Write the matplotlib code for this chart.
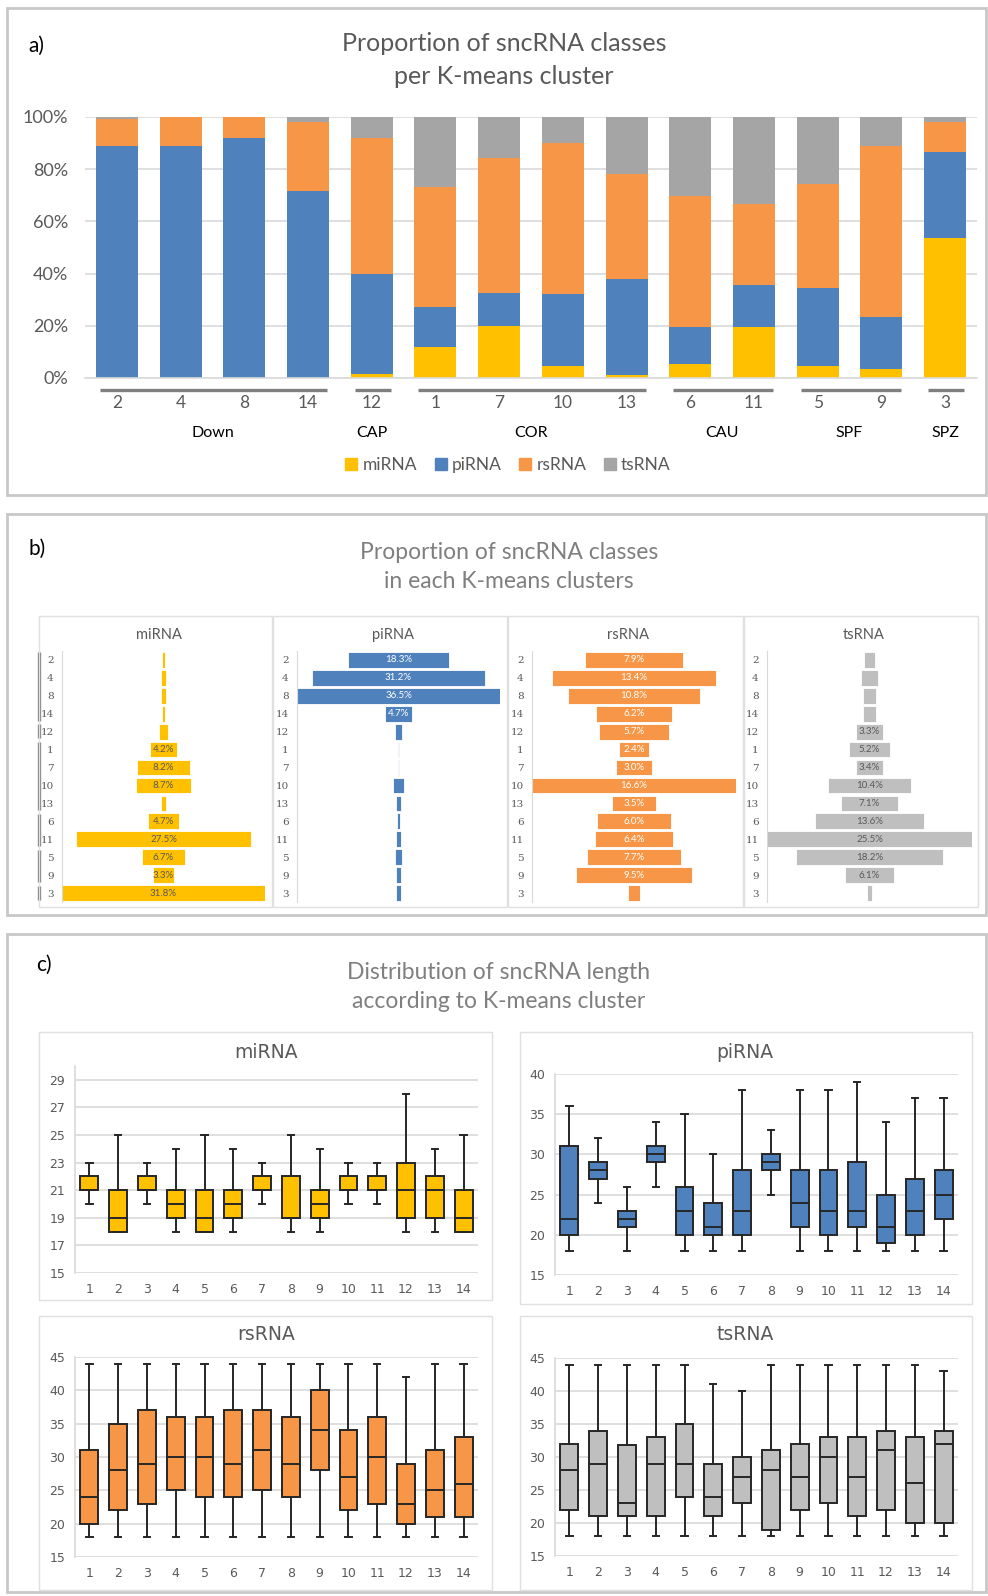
import matplotlib
matplotlib.use("Agg")
import matplotlib.pyplot as plt
from matplotlib.patches import Rectangle, Patch

plt.rcParams['font.family'] = ['Lato', 'DejaVu Sans']

# ---- data ----
classes = ["miRNA", "piRNA", "rsRNA", "tsRNA"]
clusters = ["2", "4", "8", "14", "12", "1", "7", "10", "13", "6", "11", "5", "9", "3"]
groups = ["Down", "CAP", "COR", "CAU", "SPF", "SPZ"]
group_sizes = [4, 1, 4, 2, 2, 1]

# panel a: percentage of each class within a cluster
pct_mirna = [0, 0, 0, 0, 1.5, 11.7, 20.0, 4.5, 1.1, 5.5, 19.4, 4.7, 3.3, 53.6]
pct_pirna = [88.8, 88.8, 92.0, 71.7, 38.4, 15.4, 12.6, 27.5, 36.9, 14.1, 16.1, 29.7, 19.9, 32.9]
pct_rsrna = [10.6, 11.2, 8.0, 26.4, 52.1, 46.0, 51.7, 58.2, 40.3, 50.0, 31.1, 40.1, 65.6, 11.6]
pct_tsrna = [0.6, 0, 0, 1.9, 8.0, 26.9, 15.7, 9.8, 21.7, 30.4, 33.4, 25.5, 11.2, 1.9]

# panel b: share of each class found in a cluster
share_mirna = [0.4, 0.9, 0.9, 0.5, 1.4, 4.2, 8.2, 8.7, 0.9, 4.7, 27.5, 6.7, 3.3, 31.8]
share_pirna = [18.3, 31.2, 36.5, 4.7, 1.1, 0.1, 0.1, 2.1, 0.8, 0.4, 0.8, 1.4, 0.8, 0.8]
share_rsrna = [7.9, 13.4, 10.8, 6.2, 5.7, 2.4, 3.0, 16.6, 3.5, 6.0, 6.4, 7.7, 9.5, 1.0]
share_tsrna = [1.3, 2.0, 1.5, 1.5, 3.3, 5.2, 3.4, 10.4, 7.1, 13.6, 25.5, 18.2, 6.1, 0.5]

# panel c: length distribution per cluster 1..14 (whislo, q1, med, q3, whishi)
box_clusters = list(range(1, 15))
len_mirna = [(20, 21, 21, 22, 23), (18, 18, 19, 21, 25), (20, 21, 21, 22, 23), (18, 19, 20, 21, 24),
             (18, 18, 19, 21, 25), (18, 19, 20, 21, 24), (20, 21, 21, 22, 23), (18, 19, 19, 22, 25),
             (18, 19, 20, 21, 24), (20, 21, 21, 22, 23), (20, 21, 21, 22, 23), (18, 19, 21, 23, 28),
             (18, 19, 21, 22, 24), (18, 18, 19, 21, 25)]
len_pirna = [(18, 20, 22, 31, 36), (24, 27, 28, 29, 32), (18, 21, 22, 23, 26), (26, 29, 30, 31, 34),
             (18, 20, 23, 26, 35), (18, 20, 21, 24, 30), (18, 20, 23, 28, 38), (25, 28, 29, 30, 33),
             (18, 21, 24, 28, 38), (18, 20, 23, 28, 38), (18, 21, 23, 29, 39), (18, 19, 21, 25, 34),
             (18, 20, 23, 27, 37), (18, 22, 25, 28, 37)]
len_rsrna = [(18, 20, 24, 31, 44), (18, 22, 28, 35, 44), (18, 23, 29, 37, 44), (18, 25, 30, 36, 44),
             (18, 24, 30, 36, 44), (18, 24, 29, 37, 44), (18, 25, 31, 37, 44), (18, 24, 29, 36, 44),
             (18, 28, 34, 40, 44), (18, 22, 27, 34, 44), (18, 23, 30, 36, 44), (18, 20, 23, 29, 42),
             (18, 21, 25, 31, 44), (18, 21, 26, 33, 44)]
len_tsrna = [(18, 22, 28, 32, 44), (18, 21, 29, 34, 44), (18, 21, 23, 31.8, 44), (18, 21, 29, 33, 44),
             (18, 24, 29, 35, 44), (18, 21, 24, 29, 41), (18, 23, 27, 30, 40), (18, 19, 28, 31, 44),
             (18, 22, 27, 32, 44), (18, 23, 30, 33, 44), (18, 21, 27, 33, 44), (18, 22, 31, 34, 44),
             (18, 20, 26, 33, 44), (18, 20, 32, 34, 43)]

YEL, BLU, ORA, GRY, LGRY = "#FFC000", "#4F81BD", "#F79646", "#A5A5A5", "#BFBFBF"
TXT = "#595959"
GRID = "#D9D9D9"

W, H = 988, 1596
fig = plt.figure(figsize=(W / 100, H / 100), dpi=100)


def fax(x0, y0, x1, y1):
    return fig.add_axes([x0 / W, 1 - y1 / H, (x1 - x0) / W, (y1 - y0) / H])


def frame(x0, y0, x1, y1, color, lw):
    fig.patches.append(Rectangle((x0 / W, 1 - y1 / H), (x1 - x0) / W, (y1 - y0) / H,
                                 transform=fig.transFigure, fill=False, ec=color, lw=lw))


def ftext(x, y, s, **kw):
    fig.text(x / W, 1 - y / H, s, **kw)


# panel frames
frame(7, 8, 986, 495, "#C8C8C8", 2)
frame(7, 514, 986, 915, "#C8C8C8", 2)
frame(7, 934, 986, 1592, "#C8C8C8", 2)

# ---------- panel a ----------
ftext(28, 46, "a)", fontsize=15, ha="left", va="center")
ftext(504, 60, "Proportion of sncRNA classes\nper K-means cluster", fontsize=18, color=TXT,
      ha="center", va="center", linespacing=1.5)

ax = fax(85, 117, 977, 378)
x = list(range(len(clusters)))
bottom = [0] * len(x)
for vals, col in zip([pct_mirna, pct_pirna, pct_rsrna, pct_tsrna], [YEL, BLU, ORA, GRY]):
    ax.bar(x, vals, bottom=bottom, width=0.66, color=col, zorder=2)
    bottom = [b + v for b, v in zip(bottom, vals)]
ax.set_xlim(-0.5, 13.5)
ax.set_ylim(0, 100)
ax.set_yticks(range(0, 101, 20))
ax.set_yticklabels([f"{v}%" for v in range(0, 101, 20)], fontsize=13, color=TXT)
ax.set_xticks(x)
ax.set_xticklabels(clusters, fontsize=12.5, color=TXT)
ax.tick_params(axis="y", length=0, pad=12)
ax.tick_params(axis="x", length=0, pad=12)
ax.grid(axis="y", color=GRID, lw=1.2, zorder=0)
for s in ["top", "right", "left"]:
    ax.spines[s].set_visible(False)
ax.spines["bottom"].set_color(GRID)
ax.spines["bottom"].set_linewidth(1.2)

trans = ax.get_xaxis_transform()
start = 0
for g, n in zip(groups, group_sizes):
    ax.plot([start - 0.27, start + n - 1 + 0.3], [-0.046, -0.046], color="#7F7F7F", lw=2.4,
            transform=trans, clip_on=False, solid_capstyle="butt")
    ax.text(start + (n - 1) / 2, -0.21, g, transform=trans, ha="center", va="center", fontsize=11.5)
    start += n

handles = [Patch(color=c) for c in [YEL, BLU, ORA, GRY]]
fig.legend(handles, classes, ncol=4, frameon=False, loc="center", bbox_to_anchor=(508 / W, 1 - 465 / H),
           fontsize=12.5, handlelength=0.7, handleheight=0.7, handletextpad=0.3, columnspacing=1.0,
           labelcolor=TXT)

# ---------- panel b ----------
ftext(28, 549, "b)", fontsize=15, ha="left", va="center")
ftext(509, 567, "Proportion of sncRNA classes\nin each K-means clusters", fontsize=16.5, color="#7F7F7F",
      ha="center", va="center", linespacing=1.5)

b_boxes = [(39, 272), (273, 507), (508, 743), (744, 978)]
b_axes = [(62, 265), (297, 500), (532, 736), (767, 972)]
b_vals = [share_mirna, share_pirna, share_rsrna, share_tsrna]
b_cols = [YEL, BLU, ORA, LGRY]
b_lab = ["#595959", "white", "white", "#595959"]
for i in range(4):
    bx0, bx1 = b_boxes[i]
    frame(bx0, 616, bx1, 907, "#E0E0E0", 1)
    ax0, ax1 = b_axes[i]
    ftext((bx0 + bx1) / 2 + 3, 635, classes[i], fontsize=10.5, color=TXT, ha="center", va="center")
    ax = fax(ax0, 651, ax1, 902)
    vals = b_vals[i]
    y = list(range(len(clusters)))
    ax.barh(y, vals, left=[-v / 2 for v in vals], height=0.88, color=b_cols[i], ec="white", lw=0.6)
    m = max(vals)
    ax.set_xlim(-m / 2, m / 2)
    ax.set_ylim(13.5, -0.5)
    for yy, v in zip(y, vals):
        if v >= 2.3:
            ax.text(0, yy, f"{v:.1f}%", ha="center", va="center", fontsize=7, color=b_lab[i])
    ax.set_xticks([])
    ax.set_yticks(y)
    ax.set_yticklabels(clusters, fontsize=7.5, color=TXT, family="DejaVu Serif")
    ax.tick_params(axis="y", length=0, pad=6)
    for s in ["top", "right", "bottom"]:
        ax.spines[s].set_visible(False)
    ax.spines["left"].set_color(GRID)
    if i == 0:
        tr = ax.get_yaxis_transform()
        start = 0
        for n in group_sizes:
            ax.plot([-0.113, -0.113], [start - 0.42, start + n - 1 + 0.38], color="#7F7F7F", lw=2.4,
                    transform=tr, clip_on=False, solid_capstyle="butt")
            start += n

# ---------- panel c ----------
ftext(36, 965, "c)", fontsize=15, ha="left", va="center")
ftext(499, 987, "Distribution of sncRNA length\naccording to K-means cluster", fontsize=16.5, color="#7F7F7F",
      ha="center", va="center", linespacing=1.5)

c_boxes = [(39, 1032, 492, 1300), (520, 1032, 972, 1304), (39, 1316, 492, 1590), (520, 1316, 972, 1590)]
c_axes = [(75, 1066, 478, 1273), (555, 1074, 958, 1275), (75, 1357, 478, 1557), (555, 1358, 958, 1556)]
c_title = [(266, 1052), (745, 1053), (266, 1335), (745, 1335)]
c_ylim = [(15, 30, 2), (15, 40, 5), (15, 45, 5), (15, 45, 5)]
c_vals = [len_mirna, len_pirna, len_rsrna, len_tsrna]
c_cols = [YEL, BLU, ORA, LGRY]
for i in range(4):
    x0, y0, x1, y1 = c_boxes[i]
    frame(x0, y0, x1, y1, "#E0E0E0", 1)
    a0, ay0, a1, ay1 = c_axes[i]
    ftext(c_title[i][0], c_title[i][1], classes[i], fontsize=13.5, color=TXT, ha="center", va="center",
          family="DejaVu Sans")
    ax = fax(a0, ay0, a1, ay1)
    stats = []
    for k, (lo, q1, med, q3, hi) in zip(box_clusters, c_vals[i]):
        stats.append({"label": str(k), "whislo": lo, "q1": q1, "med": med, "q3": q3, "whishi": hi,
                      "fliers": []})
    ax.bxp(stats, positions=box_clusters, widths=0.62, patch_artist=True, showfliers=False,
           capwidths=0.22,
           boxprops=dict(facecolor=c_cols[i], edgecolor="#262626", lw=1.4),
           medianprops=dict(color="#262626", lw=1.4),
           whiskerprops=dict(color="#262626", lw=1.4),
           capprops=dict(color="#262626", lw=1.4))
    lo, hi, step = c_ylim[i]
    ax.set_ylim(lo, hi)
    ax.set_xlim(0.5, 14.5)
    ax.set_yticks(range(lo, hi + 1 if hi != 30 else 30, step))
    ax.yaxis.grid(True, color=GRID, lw=1.2)
    ax.set_axisbelow(True)
    ax.tick_params(axis="both", length=0, labelsize=9, labelcolor=TXT, pad=7)
    for lab in ax.get_xticklabels() + ax.get_yticklabels():
        lab.set_family("DejaVu Sans")
    for s in ["top", "right", "bottom"]:
        ax.spines[s].set_visible(False)
    ax.spines["left"].set_color(GRID)
    ax.spines["left"].set_linewidth(1.2)

fig.savefig("out.png", dpi=100)
